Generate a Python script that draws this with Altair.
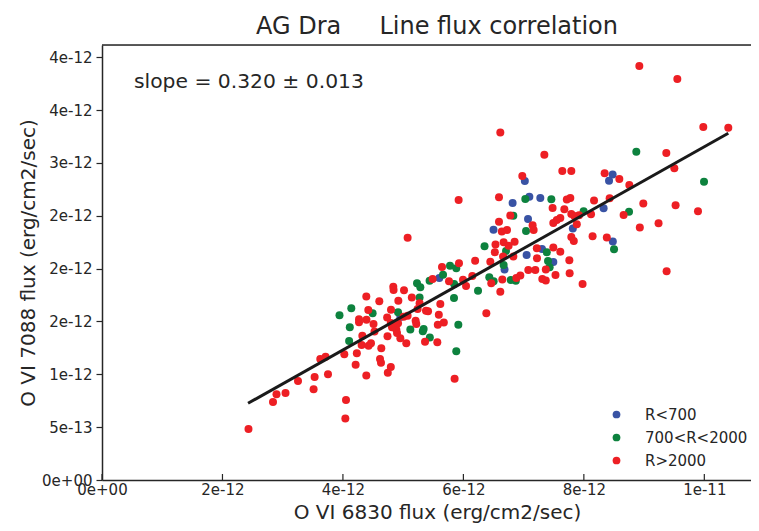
import altair as alt
import pandas as pd

# ---- data (flux values in units of 1e-12 erg/cm2/sec) ----
blue_x = [7.020, 8.478, 8.418, 6.817, 7.095, 7.277, 8.328, 7.073, 7.817, 8.481,
          6.500, 7.305, 7.050, 7.493, 6.683, 5.600, 4.953]
blue_y = [2.829, 2.890, 2.832, 2.621, 2.680, 2.668, 2.571, 2.469, 2.379, 2.256,
          2.367, 2.186, 2.129, 2.063, 1.992, 1.911, 1.542]

green_x = [8.871, 9.995, 7.028, 7.460, 6.829, 7.996, 8.750, 8.501, 7.040, 6.351,
           6.708, 7.385, 7.405, 5.778, 5.882, 6.668, 7.432, 6.502, 6.430, 6.787,
           6.870, 6.243, 5.846, 5.844, 5.916, 5.882, 5.662, 5.439, 5.230, 5.285,
           5.273, 5.340, 5.326, 5.443, 5.119, 4.139, 3.943, 4.493, 4.915, 4.114,
           4.103]
green_y = [3.106, 2.822, 2.659, 2.656, 2.501, 2.542, 2.538, 2.184, 2.356, 2.212,
           2.167, 2.154, 2.072, 2.028, 2.003, 2.034, 2.012, 1.880, 1.918, 1.892,
           1.886, 1.791, 1.854, 1.722, 1.469, 1.218, 1.942, 1.886, 1.861, 1.823,
           1.727, 1.429, 1.407, 1.348, 1.424, 1.624, 1.559, 1.578, 1.587, 1.446,
           1.315]

red_x = [8.921, 9.552, 9.983, 10.398, 6.613, 7.344, 9.369, 7.642, 7.792, 9.502,
         6.978, 8.345, 8.589, 8.755, 5.921, 6.591, 7.717, 7.775, 8.169, 8.428,
         8.987, 9.523, 9.895, 7.481, 7.676, 6.779, 6.591, 7.792, 7.842, 7.920,
         8.119, 8.660, 7.609, 7.551, 7.493, 7.883, 8.929, 9.240, 5.074, 8.145,
         8.381, 7.792, 7.833, 9.374, 7.979, 7.149, 7.166, 6.638, 6.724, 6.533,
         6.668, 6.850, 6.751, 6.522, 7.219, 7.493, 7.609, 7.222, 6.659, 6.829,
         7.759, 6.447, 6.195, 5.927, 5.645, 7.078, 7.194, 7.368, 6.945, 6.879,
         6.646, 7.310, 7.368, 7.529, 7.764, 6.148, 5.994, 6.613, 6.463, 6.381,
         6.044, 5.761, 5.854, 5.489, 4.836, 4.841, 5.014, 5.144, 5.617, 5.592,
         5.675, 5.575, 5.567, 5.363, 5.379, 5.413, 5.273, 5.240, 5.052, 4.953,
         4.898, 4.886, 4.795, 4.734, 4.740, 4.795, 4.745, 4.632, 4.616, 4.637,
         4.388, 4.604, 4.920, 4.421, 4.798, 5.008, 5.074, 5.207, 5.218, 4.267,
         4.267, 4.391, 4.508, 4.815, 4.915, 4.322, 4.524, 4.310, 4.426, 4.466,
         4.023, 4.231, 3.624, 3.712, 4.211, 4.388, 3.752, 3.530, 3.513, 3.254,
         3.047, 2.897, 2.839, 2.432, 4.051, 4.040]
red_y = [3.917, 3.794, 3.340, 3.333, 3.288, 3.078, 3.094, 2.923, 2.923, 2.949,
         2.876, 2.902, 2.848, 2.791, 2.649, 2.675, 2.654, 2.668, 2.644, 2.665,
         2.616, 2.600, 2.542, 2.573, 2.562, 2.502, 2.444, 2.517, 2.498, 2.505,
         2.514, 2.507, 2.479, 2.460, 2.431, 2.419, 2.389, 2.430, 2.292, 2.306,
         2.294, 2.299, 2.261, 1.975, 1.854, 2.410, 2.365, 2.351, 2.365, 2.228,
         2.249, 2.255, 2.217, 2.154, 2.193, 2.200, 2.160, 2.098, 2.115, 2.115,
         2.079, 2.064, 2.075, 2.050, 2.015, 1.987, 1.987, 1.992, 1.935, 1.911,
         1.897, 1.902, 1.887, 1.940, 1.956, 1.930, 1.895, 1.782, 1.861, 1.577,
         1.835, 1.880, 0.958, 1.902, 1.829, 1.798, 1.796, 1.727, 1.665, 1.563,
         1.490, 1.468, 1.303, 1.308, 1.602, 1.596, 1.672, 1.618, 1.293, 1.341,
         1.391, 1.424, 1.485, 1.537, 1.360, 1.069, 1.015, 1.110, 1.145, 1.246,
         1.736, 1.691, 1.696, 1.608, 1.611, 1.545, 1.554, 1.507, 1.476, 1.521,
         1.492, 1.516, 1.476, 1.445, 1.483, 1.365, 1.405, 1.277, 1.270, 1.294,
         1.189, 1.200, 1.145, 1.166, 1.091, 0.989, 1.001, 0.975, 0.859, 0.937,
         0.823, 0.811, 0.738, 0.483, 0.757, 0.582]

fit_x = [2.425, 10.398]
fit_y = [0.726, 3.280]

categories = ["R<700", "700<R<2000", "R>2000"]
colors = ["#3953a4", "#0d823e", "#ed1f24"]

x_ticks = [0, 2e-12, 4e-12, 6e-12, 8e-12, 1e-11]
x_tick_labels = ["0e+00", "2e-12", "4e-12", "6e-12", "8e-12", "1e-11"]
y_ticks = [0, 5e-13, 1e-12, 1.5e-12, 2e-12, 2.5e-12, 3e-12, 3.5e-12, 4e-12]
y_tick_labels = ["0e+00", "5e-13", "1e-12", "2e-12", "2e-12", "2e-12", "3e-12", "4e-12", "4e-12"]

slope_text = "slope = 0.320 \u00b1 0.013"
title_text = "AG Dra\u00a0\u00a0\u00a0\u00a0\u00a0Line flux correlation"
x_title = "O VI 6830 flux (erg/cm2/sec)"
y_title = "O VI 7088 flux (erg/cm2/sec)"

UNIT = 1e-12
W, H = 649, 435
X_MAX = 10.775e-12
Y_MAX = 4.1154e-12
FONT = "DejaVu Sans"
TXT = "#262626"


def label_expr(vals, labels):
    expr = "''"
    for v, l in reversed(list(zip(vals, labels))):
        expr = f"datum.value == {v!r} ? '{l}' : ({expr})"
    return expr


rows = []
for cat, xs, ys in zip(categories, [blue_x, green_x, red_x], [blue_y, green_y, red_y]):
    for xv, yv in zip(xs, ys):
        rows.append({"x": xv * UNIT, "y": yv * UNIT, "cls": cat})
pts = pd.DataFrame(rows)
pts["order"] = range(len(pts))

xscale = alt.Scale(domain=[0, X_MAX], nice=False, zero=True)
yscale = alt.Scale(domain=[0, Y_MAX], nice=False, zero=True)

xaxis = alt.Axis(values=x_ticks, labelExpr=label_expr(x_ticks, x_tick_labels),
                 ticks=False, tickSize=0, labelPadding=2.5, labelFontSize=15,
                 labelFont=FONT, labelColor=TXT, grid=False, labelFlush=False,
                 labelOverlap=False,
                 domainColor="#262626", domainWidth=1.5,
                 title=x_title, titleFont=FONT, titleFontSize=20, titleFontWeight="normal",
                 titleColor=TXT, titleX=335, titleY=38, titleAlign="center",
                 titleBaseline="alphabetic", titleAnchor="start")
yaxis = alt.Axis(values=y_ticks, labelExpr=label_expr(y_ticks, y_tick_labels),
                 ticks=True, tickSize=6, tickColor="#262626", tickWidth=1.2,
                 labelPadding=4, labelFontSize=15, labelFont=FONT, labelColor=TXT,
                 grid=False, labelFlush=False, labelOverlap=False,
                 domainColor="#262626", domainWidth=1.5,
                 title=y_title, titleFont=FONT, titleFontSize=20, titleFontWeight="normal",
                 titleColor=TXT, titleX=-74, titleY=H / 2, titleAlign="center",
                 titleBaseline="middle", titleAngle=270, titleAnchor="start")

points = alt.Chart(pts).mark_circle(size=64, opacity=1).encode(
    x=alt.X("x:Q", scale=xscale, axis=xaxis),
    y=alt.Y("y:Q", scale=yscale, axis=yaxis),
    color=alt.Color("cls:N", scale=alt.Scale(domain=categories, range=colors),
                    legend=alt.Legend(title=None, orient="none", legendX=507, legendY=362,
                                      symbolType="circle", symbolSize=60, symbolOpacity=1,
                                      labelFont=FONT, labelFontSize=15, labelColor=TXT,
                                      labelOffset=21, rowPadding=7, padding=0)),
    order=alt.Order("order:Q"),
)

fit = alt.Chart(pd.DataFrame({"x": [v * UNIT for v in fit_x],
                              "y": [v * UNIT for v in fit_y]})).mark_line(
    color="#1a1a1a", strokeWidth=3).encode(
    x=alt.X("x:Q", scale=xscale), y=alt.Y("y:Q", scale=yscale))

xtick_marks = alt.Chart(pd.DataFrame({"t": x_ticks})).mark_rule(
    color="#262626", strokeWidth=1.2).encode(
    x=alt.X("t:Q", scale=xscale), y=alt.value(H), y2=alt.value(H - 6))

top_border = alt.Chart(pd.DataFrame({"a": [0]})).mark_rule(
    color="#262626", strokeWidth=1.5).encode(
    x=alt.value(0), x2=alt.value(W), y=alt.value(0))

slope = alt.Chart(pd.DataFrame({"t": [slope_text]})).mark_text(
    align="left", baseline="alphabetic", font=FONT, fontSize=20.3, color=TXT).encode(
    x=alt.value(32), y=alt.value(43), text="t:N")

title = alt.Chart(pd.DataFrame({"t": [title_text]})).mark_text(
    align="center", baseline="alphabetic", font=FONT, fontSize=24, color=TXT).encode(
    x=alt.value(335), y=alt.value(-11), text="t:N")

chart = alt.layer(xtick_marks, top_border, points, fit, slope, title).properties(
    width=W, height=H,
    autosize=alt.AutoSizeParams(type="none"),
    padding={"left": 94, "top": 37, "right": 0, "bottom": 43},
).configure_view(stroke=None).configure(background="white")

chart.save("out.html", embed_options={"renderer": "svg", "actions": False})
